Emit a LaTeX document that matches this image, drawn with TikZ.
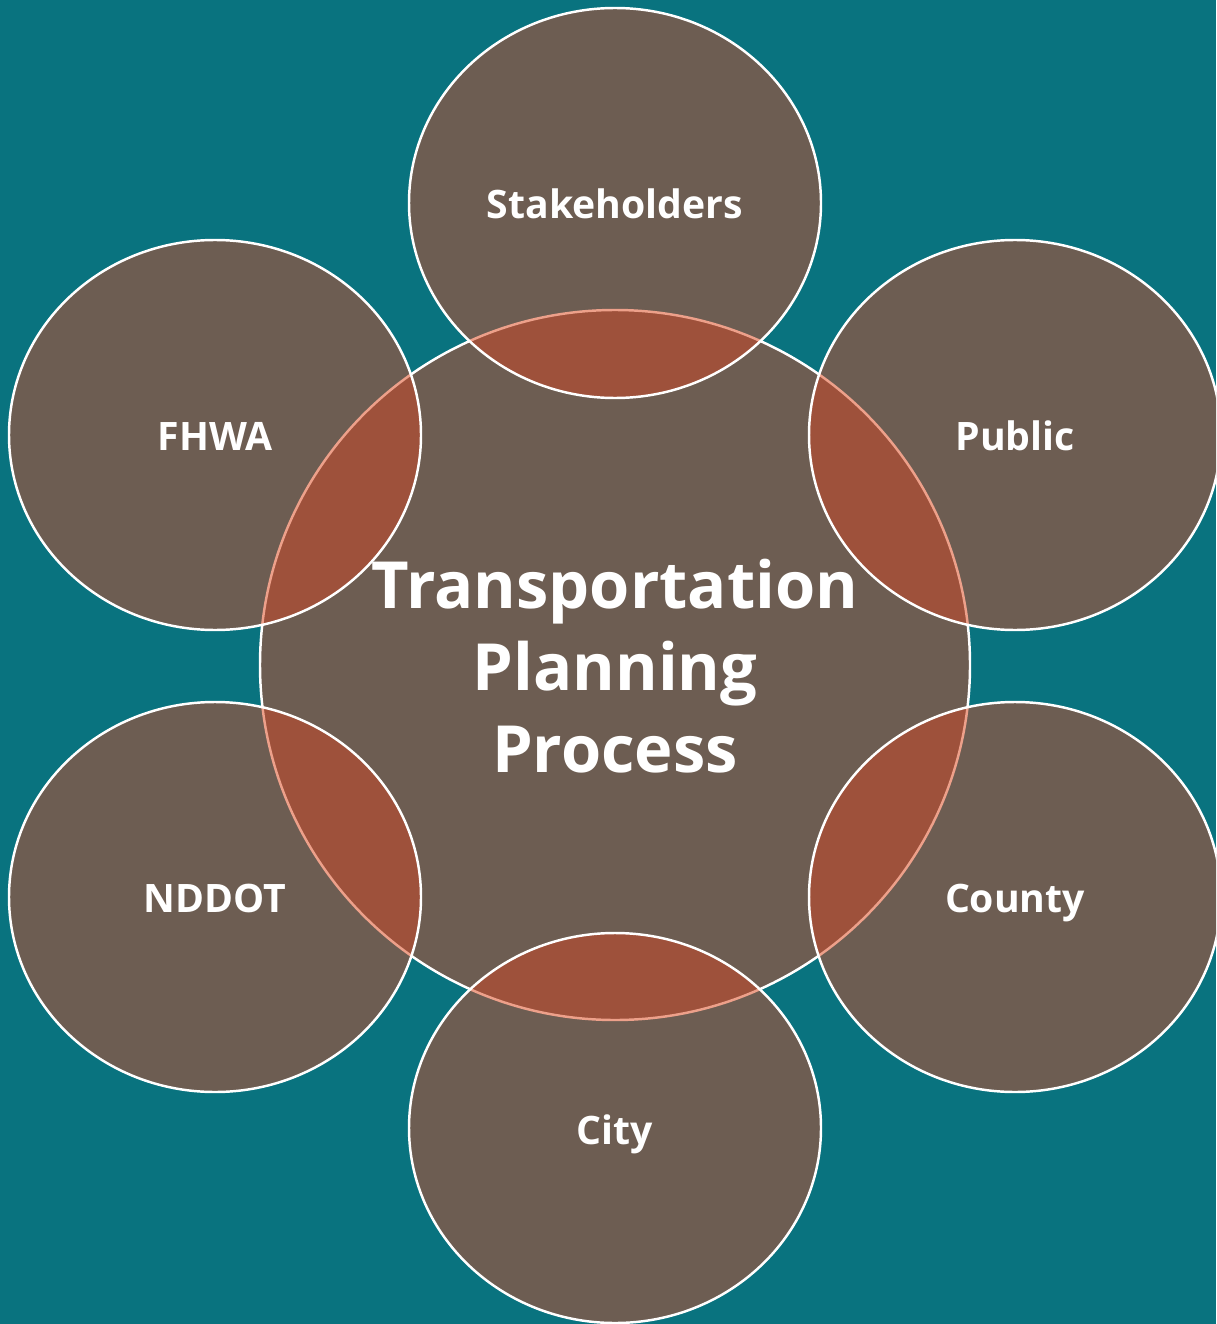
\documentclass[tikz,border=0pt]{standalone}
\usepackage{fontspec}
\setmainfont{Open Sans}
\usetikzlibrary{positioning}
\definecolor{bgteal}{HTML}{09737F}
\definecolor{lobebrown}{HTML}{6D5D52}
\definecolor{overlapred}{HTML}{9E513B}
\definecolor{rimsalmon}{HTML}{EDA08A}
\tikzset{
  lobefill/.style={fill=lobebrown},
  rim/.style={draw=white,line width=1.4pt},
  lobelabel/.style={text=white,text height=1.6ex,text depth=.35ex,
    font=\fontsize{22.3}{26}\selectfont\bfseries},
  hublabel/.style={text=white,align=center,font=\fontsize{37}{46.5}\selectfont\bfseries}
}
\begin{document}
\begin{tikzpicture}[x=0.02cm,y=-0.02cm]
  \fill[bgteal] (0,0) rectangle (1216,1324);
  \clip (0,0) rectangle (1216,1324);
  \coordinate (hub) at (615,665);
  % hub circle
  \fill[lobefill] (hub) circle [radius=355];
  \draw[rim] (hub) circle [radius=355];
  % outer lobes
  \foreach \x/\y in {615/203,1015/435,1015/897,615/1128,215/897,215/435}
    \fill[lobefill] (\x,\y) ellipse [x radius=206,y radius=195];
  % overlaps with the hub
  \foreach \x/\y in {615/203,1015/435,1015/897,615/1128,215/897,215/435}{
    \begin{scope}
      \clip (\x,\y) ellipse [x radius=206,y radius=195];
      \fill[overlapred] (hub) circle [radius=355];
      \draw[draw=rimsalmon,line width=1.4pt] (hub) circle [radius=355];
    \end{scope}
  }
  \foreach \x/\y in {615/203,1015/435,1015/897,615/1128,215/897,215/435}
    \draw[rim] (\x,\y) ellipse [x radius=206,y radius=195];
  % labels
  \node[hublabel] (core) at (615,666) {Transportation\\Planning\\Process};
  \node[lobelabel] (stake) at (615,213) {Stakeholders};
  \node[lobelabel] (public) at (1015,445) {Public};
  \node[lobelabel] (county) at (1015,907) {County};
  \node[lobelabel] (city) at (615,1139) {City};
  \node[lobelabel] (nddot) at (215,907) {NDDOT};
  \node[lobelabel] (fhwa) at (215,445) {FHWA};
\end{tikzpicture}
\end{document}
